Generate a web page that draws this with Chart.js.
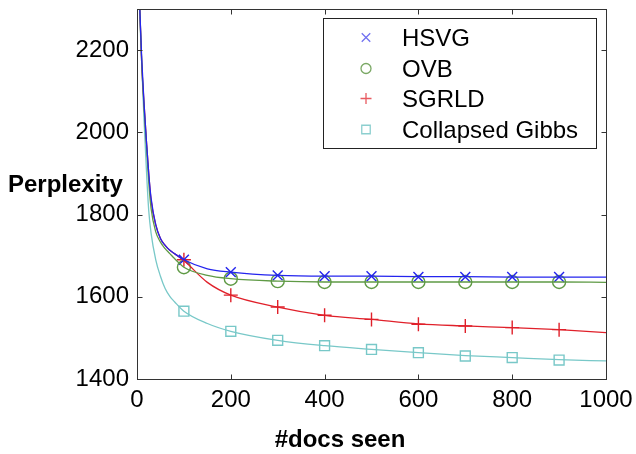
<!DOCTYPE html>
<html>
<head>
<meta charset="utf-8">
<script src="https://cdn.jsdelivr.net/npm/chart.js@4/dist/chart.umd.min.js"></script>
<style>
  html, body { margin: 0; padding: 0; background: #fff; }
  #wrap { width: 636px; height: 454px; }
</style>
</head>
<body>
<div id="wrap"><canvas id="chart"></canvas></div>
<script>
// curve samples (x = #docs seen)
const curveX = [6, 10, 15, 20, 25, 30, 40, 50, 60, 70, 80, 100, 150, 200, 300, 400, 500, 600, 700, 800, 900, 1000]
const hsvgCurve = [2300, 2180, 2070, 1980, 1900, 1840, 1775, 1742, 1725, 1713, 1705, 1690, 1668, 1660, 1652, 1650, 1650, 1649, 1649, 1648, 1648, 1648]
const ovbCurve = [2300, 2170, 2060, 1970, 1880, 1815, 1758, 1733, 1717, 1705, 1693, 1672, 1652, 1644, 1638, 1636, 1636, 1636, 1636, 1636, 1636, 1635]
const sgrldCurve = [2300, 2170, 2070, 1980, 1900, 1835, 1775, 1742, 1725, 1713, 1705, 1688, 1635, 1604, 1575, 1555, 1545, 1534, 1529, 1525, 1520, 1513]
const gibbsCurve = [2280, 2170, 2030, 1910, 1810, 1755, 1690, 1650, 1620, 1601, 1588, 1565, 1535, 1516, 1494, 1481, 1472, 1464, 1457, 1452, 1447, 1444]

// marker samples
const markerX = [100, 200, 300, 400, 500, 600, 700, 800, 900]
const hsvgMarks = [1690, 1660, 1652, 1650, 1650, 1648, 1648, 1648, 1648]
const ovbMarks = [1672, 1644, 1638, 1636, 1636, 1636, 1636, 1636, 1636]
const sgrldMarks = [1690, 1604, 1575, 1555, 1545, 1533, 1529, 1525, 1520]
const gibbsMarks = [1565, 1516, 1494, 1481, 1472, 1464, 1456, 1452, 1446]

const seriesNames = ["HSVG", "OVB", "SGRLD", "Collapsed Gibbs"]
const xTicks = [0, 200, 400, 600, 800, 1000]
const yTicks = [1400, 1600, 1800, 2000, 2200]

const FONT = "'Liberation Sans', Arial, Helvetica, sans-serif"

const styles = [
  { color: "#2424ee", legendColor: "#7070f0", pointStyle: "crossRot", radius: 7, legendRadius: 6 },
  { color: "#5f9a45", legendColor: "#7aa864", pointStyle: "circle", radius: 6.5, legendRadius: 5 },
  { color: "#e0202a", legendColor: "#e85a60", pointStyle: "cross", radius: 7, legendRadius: 5.5 },
  { color: "#78c8c8", legendColor: "#8ccfcf", pointStyle: "rect", radius: 7, legendRadius: 6 }
]

const curves = [hsvgCurve, ovbCurve, sgrldCurve, gibbsCurve]
const marks = [hsvgMarks, ovbMarks, sgrldMarks, gibbsMarks]

const toPoints = (xs, ys) => xs.map((x, i) => ({ x: x, y: ys[i] }))

const lineSets = curves.map((ys, i) => ({
  label: seriesNames[i] + " curve",
  data: toPoints(curveX, ys),
  borderColor: styles[i].color,
  borderWidth: 1.3,
  pointRadius: 0,
  cubicInterpolationMode: "monotone",
  fill: false
}))

const markerSets = marks.map((ys, i) => ({
  label: seriesNames[i],
  data: toPoints(markerX, ys),
  showLine: false,
  borderColor: styles[i].color,
  backgroundColor: "rgba(0,0,0,0)",
  pointStyle: styles[i].pointStyle,
  pointRadius: styles[i].radius,
  pointBorderWidth: 1.4,
  isMarker: true,
  styleIndex: i
}))

// frame, inward ticks, horizontal y title, x title and boxed legend
const framePlugin = {
  id: "frame",
  afterDatasetsDraw(chart) {
    const { ctx, chartArea: a, scales } = chart
    const L = Math.round(a.left) + 0.5, R = Math.round(a.right) + 0.5
    const T = Math.round(a.top) + 0.5, B = Math.round(a.bottom) + 0.5
    ctx.save()
    ctx.strokeStyle = "#333"
    ctx.lineWidth = 1
    ctx.strokeRect(L, T, R - L, B - T)
    ctx.beginPath()
    xTicks.forEach(v => {
      const px = Math.round(scales.x.getPixelForValue(v)) + 0.5
      ctx.moveTo(px, B); ctx.lineTo(px, B - 5)
      ctx.moveTo(px, T); ctx.lineTo(px, T + 5)
    })
    yTicks.forEach(v => {
      const py = Math.round(scales.y.getPixelForValue(v)) + 0.5
      ctx.moveTo(L, py); ctx.lineTo(L + 5, py)
      ctx.moveTo(R, py); ctx.lineTo(R - 5, py)
    })
    ctx.stroke()

    // titles
    ctx.fillStyle = "#000"
    ctx.font = "bold 24px " + FONT
    ctx.textBaseline = "alphabetic"
    ctx.textAlign = "left"
    ctx.fillText("Perplexity", 8, 192)
    ctx.textAlign = "center"
    ctx.fillText("#docs seen", 340, 447)

    // legend
    ctx.fillStyle = "#fff"
    ctx.fillRect(323.5, 18.5, 273, 130)
    ctx.strokeStyle = "#222"
    ctx.strokeRect(323.5, 18.5, 273, 130)
    const baselines = [46, 77, 107, 138]
    chart.data.datasets.filter(d => d.isMarker).forEach((d, i) => {
      const st = styles[d.styleIndex]
      ctx.strokeStyle = st.legendColor
      ctx.fillStyle = "rgba(0,0,0,0)"
      ctx.lineWidth = 1.3
      Chart.helpers.drawPoint(ctx, { pointStyle: st.pointStyle, radius: st.legendRadius, borderWidth: 1.3, rotation: 0 }, 366, baselines[i] - 8.5)
      ctx.fillStyle = "#000"
      ctx.font = "24px " + FONT
      ctx.textAlign = "left"
      ctx.fillText(d.label, 402, baselines[i])
    })
    ctx.restore()
  }
}

const noEdgePadding = s => {
  s.paddingTop = 0
  s.paddingBottom = 0
  s.paddingLeft = 0
  s.paddingRight = 0
}

new Chart(document.getElementById("chart"), {
  type: "line",
  data: { datasets: [...lineSets, ...markerSets] },
  options: {
    responsive: true,
    maintainAspectRatio: false,
    animation: false,
    layout: { padding: { top: 9, right: 30, left: 0, bottom: 0 } },
    plugins: {
      legend: { display: false },
      tooltip: { enabled: false }
    },
    scales: {
      x: {
        type: "linear",
        min: 0,
        max: 1000,
        afterBuildTicks: s => { s.ticks = xTicks.map(v => ({ value: v })) },
        afterFit: s => { s.height = 75; noEdgePadding(s) },
        grid: { display: false, drawTicks: false },
        border: { display: false },
        ticks: { color: "#000", font: { family: FONT, size: 24 }, padding: 7, maxRotation: 0, callback: v => String(v) }
      },
      y: {
        type: "linear",
        min: 1400,
        max: 2300,
        afterBuildTicks: s => { s.ticks = yTicks.map(v => ({ value: v })) },
        afterFit: s => { s.width = 137; noEdgePadding(s) },
        grid: { display: false, drawTicks: false },
        border: { display: false },
        ticks: { color: "#000", font: { family: FONT, size: 24 }, padding: 8, callback: v => String(v) }
      }
    }
  },
  plugins: [framePlugin]
})
</script>
</body>
</html>
